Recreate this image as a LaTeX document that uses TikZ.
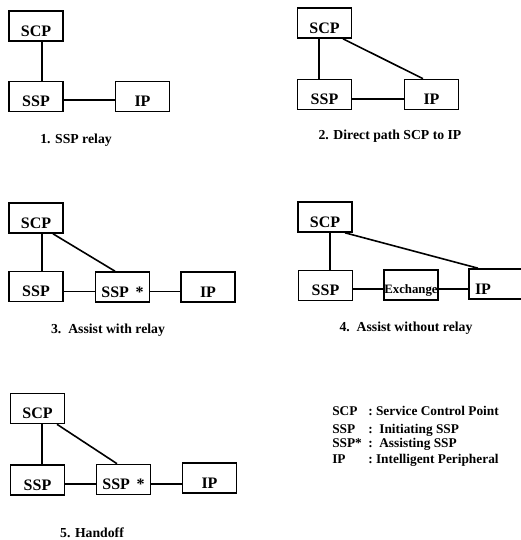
\documentclass[tikz,border=0pt]{standalone}
\usepackage{fontspec}
\setmainfont{Liberation Serif}
\usetikzlibrary{calc}
\begin{document}
\begin{tikzpicture}[x=0.75pt,y=-0.75pt,
 box/.style={draw,line width=1.2pt,rectangle,minimum width=40.5pt,minimum height=22.5pt,inner sep=0pt,text height=15pt,text depth=0pt,font=\fontsize{12}{14}\selectfont\bfseries},
 link/.style={line width=0.9pt},
 diag/.style={line width=1.2pt},
 capt/.style={anchor=base,font=\fontsize{10.3}{12}\selectfont\bfseries,inner sep=0pt},
 lgd/.style={anchor=base west,font=\fontsize{10}{12}\selectfont\bfseries,inner sep=0pt}]
\useasboundingbox (0,0) rectangle (521,540);

% Panel 1
\node[box] (scp1) at (36,26) {SCP};
\node[box] (ssp1) at (36,96.5) {SSP};
\node[box] (ip1) at (142.5,96.5) {IP};
\draw[link] ($(scp1.south)+(6,0)$) -- ($(ssp1.north)+(6,0)$);
\draw[link] ($(ssp1.east)+(0,3.5)$) -- ($(ip1.west)+(0,3.5)$);
\node[capt] (c1) at (76,143) {1. SSP relay};

% Panel 2
\node[box] (scp2) at (324.5,23) {SCP};
\node[box] (ssp2) at (324.5,94.5) {SSP};
\node[box] (ip2) at (431.5,94.5) {IP};
\draw[link] ($(scp2.south)+(-5.5,0)$) -- ($(ssp2.north)+(-5.5,0)$);
\draw[link] ($(ssp2.east)+(0,4.5)$) -- ($(ip2.west)+(0,4.5)$);
\draw[diag] ($(scp2.south)+(18.5,0)$) -- ($(ip2.north)+(-8.5,0)$);
\node[capt] (c2) at (390,139) {2. Direct path SCP to IP};

% Panel 3
\node[box] (scp3) at (36,218) {SCP};
\node[box] (ssp3) at (36,286.5) {SSP};
\node[box] (sspa3) at (122.5,287) {SSP\hspace{5pt}*};
\node[box] (ip3) at (208,287) {IP};
\draw[link] ($(scp3.south)+(6,0)$) -- ($(ssp3.north)+(6,0)$);
\draw[link] ($(ssp3.east)+(0,5)$) -- ($(sspa3.west)+(0,4.5)$);
\draw[link] ($(sspa3.east)+(0,4.5)$) -- ($(ip3.west)+(0,4.5)$);
\draw[diag] ($(scp3.south)+(17,0)$) -- ($(sspa3.north)+(-7.5,0)$);
\node[capt] (c3) at (108,333) {3.\ \ Assist with relay};

% Panel 4
\node[box] (scp4) at (325,217) {SCP};
\node[box] (ssp4) at (325.5,285.5) {SSP};
\node[box,text height=12pt,font=\fontsize{9.6}{11}\selectfont\bfseries] (exch4) at (411,285) {Exchange};
\node[box,text width=31.5pt,align=left,inner xsep=4.5pt] (ip4) at (496,284) {IP};
\draw[link] ($(scp4.south)+(5,0)$) -- ($(ssp4.north)+(4.5,0)$);
\draw[link] ($(ssp4.east)+(0,3.5)$) -- ($(exch4.west)+(0,4)$);
\draw[link] ($(exch4.east)+(0,4)$) -- ($(ip4.west)+(0,5)$);
\draw[diag] ($(scp4.south)+(20,0)$) -- ($(ip4.north)+(-18,0)$);
\node[capt] (c4) at (406,331) {4.\ \ Assist without relay};

% Panel 5
\node[box] (scp5) at (37.5,408.5) {SCP};
\node[box] (ssp5) at (37.5,480) {SSP};
\node[box] (sspa5) at (123.5,479.5) {SSP\hspace{5pt}*};
\node[box] (ip5) at (209.5,478) {IP};
\draw[link] ($(scp5.south)+(4.5,0)$) -- ($(ssp5.north)+(4.5,0)$);
\draw[link] ($(ssp5.east)+(0,4)$) -- ($(sspa5.west)+(0,4.5)$);
\draw[link] ($(sspa5.east)+(0,4.5)$) -- ($(ip5.west)+(0,6)$);
\draw[diag] ($(scp5.south)+(19.5,0)$) -- ($(sspa5.north)+(-6.5,0)$);
\node[capt] (c5) at (92,537) {5. Handoff};

% Legend
\node[lgd] (l1) at (332,415) {\makebox[27pt][l]{SCP}:\ Service Control Point};
\node[lgd] (l2) at (332,433) {\makebox[27pt][l]{SSP}:\ \ Initiating SSP};
\node[lgd] (l3) at (332,447) {\makebox[27pt][l]{SSP*}:\ \ Assisting SSP};
\node[lgd] (l4) at (332,463) {\makebox[27pt][l]{IP}:\ Intelligent Peripheral};
\end{tikzpicture}
\end{document}
